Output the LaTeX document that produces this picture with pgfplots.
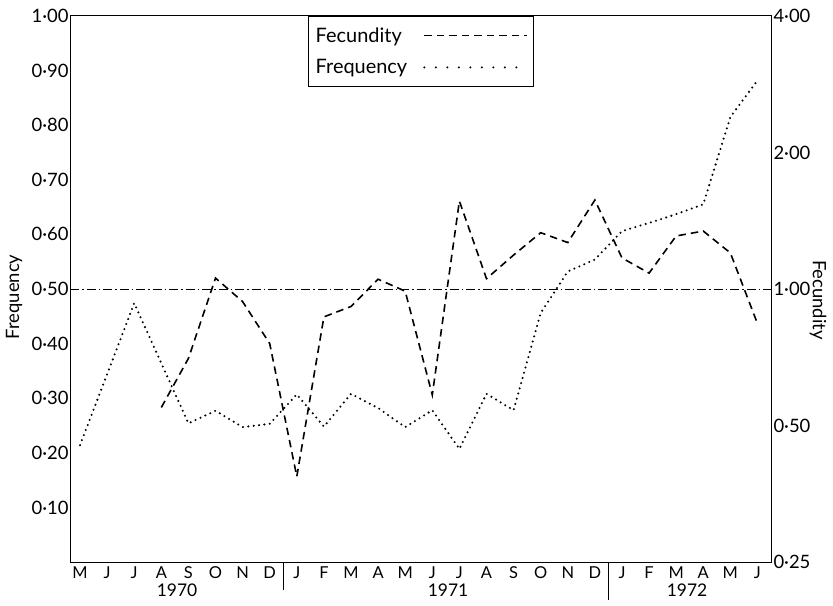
\documentclass[border=0pt]{standalone}
\usepackage{fontspec}
\setmainfont{Lato}
\usepackage{pgfplots}
\pgfplotsset{compat=1.18}
\begin{document}
\begin{tikzpicture}
\useasboundingbox (0bp,0bp) rectangle (833bp,606bp);
\begin{axis}[
  at={(70bp,44bp)}, anchor=south west, scale only axis,
  width=701bp, height=546bp,
  xmin=-0.37, xmax=25.5, ymin=0, ymax=1,
  clip=false,
  axis line style={line width=1bp},
  major tick length=0pt,
  xtick pos=bottom, ytick pos=left,
  xtick={0,...,25},
  xticklabels={M,J,J,A,S,O,N,D,J,F,M,A,M,J,J,A,S,O,N,D,J,F,M,A,M,J},
  xticklabel style={font=\fontsize{16.5}{19}\selectfont, yshift=-1bp},
  ytick={0.1,0.2,0.3,0.4,0.5,0.6,0.7,0.8,0.9,1.0},
  yticklabels={0·10,0·20,0·30,0·40,0·50,0·60,0·70,0·80,0·90,1·00},
  yticklabel style={font=\fontsize{18.5}{21}\selectfont, xshift=2bp},
]
% reference line at 0.50 / 1.00
\addplot[black, line width=0.7bp, dash pattern=on 9bp off 3bp on 1.5bp off 3bp] coordinates {(-0.37,0.5) (25.5,0.5)};
% Frequency
\addplot[black, line width=2.3bp, line cap=round, dash pattern=on 0bp off 5.4bp] coordinates {
(0,0.214) (1,0.344) (2,0.474) (3,0.364) (4,0.254) (5,0.277) (6,0.247) (7,0.253)
(8,0.307) (9,0.248) (10,0.308) (11,0.282) (12,0.247) (13,0.278) (14,0.207) (15,0.308)
(16,0.278) (17,0.456) (18,0.532) (19,0.554) (20,0.606) (21,0.621) (22,0.637) (23,0.655)
(24,0.815) (25,0.882)};
% year separators and labels
\draw[line width=0.7bp] (axis cs:7.5,0) -- ([yshift=-28bp]axis cs:7.5,0);
\draw[line width=0.7bp] (axis cs:19.5,0) -- ([yshift=-38bp]axis cs:19.5,0);
\node[font=\fontsize{17.5}{20}\selectfont] at ([yshift=-28bp]axis cs:3.58,0) {1970};
\node[font=\fontsize{17.5}{20}\selectfont] at ([yshift=-28bp]axis cs:13.58,0) {1971};
\node[font=\fontsize{17.5}{20}\selectfont] at ([yshift=-28bp]axis cs:22.4,0) {1972};
\end{axis}
\begin{axis}[
  at={(70bp,44bp)}, anchor=south west, scale only axis,
  width=701bp, height=546bp,
  xmin=-0.37, xmax=25.5,
  ymode=log, log basis y=2, ymin=0.25, ymax=4,
  axis y line*=right, axis x line=none,
  axis line style={line width=1bp},
  major tick length=0pt,
  ytick={0.25,0.5,1,2,4},
  yticklabels={0·25,0·50,1·00,2·00,4·00},
  yticklabel style={font=\fontsize{18.5}{21}\selectfont, xshift=-1bp},
  legend plot pos=right,
  legend cell align=left,
  legend image code/.code={\draw[#1] (0bp,0bp) -- (103bp,0bp);},
  legend style={at={(0.34,1)}, anchor=north west, draw=black, line width=0.8bp,
    font=\fontsize{20}{23}\selectfont, row sep=12bp, inner xsep=5bp, inner ysep=9bp,
    /tikz/every odd column/.append style={column sep=14bp}},
]
% Fecundity
\addplot[black, line width=1.6bp, dash pattern=on 7.5bp off 5bp] coordinates {
(3,0.548) (4,0.703) (5,1.057) (6,0.938) (7,0.758)
(8,0.386) (9,0.868) (10,0.915) (11,1.051) (12,0.989) (13,0.584) (14,1.563) (15,1.054)
(16,1.188) (17,1.331) (18,1.266) (19,1.571) (20,1.171) (21,1.084) (22,1.309) (23,1.342)
(24,1.201) (25,0.839)};
\addlegendentry{Fecundity}
\addlegendimage{black, line width=2.3bp, line cap=round, dash pattern=on 0bp off 11.5bp}
\addlegendentry{Frequency}
\end{axis}
\node[rotate=90, font=\fontsize{18.5}{21}\selectfont] at (14bp,309bp) {Frequency};
\node[rotate=-90, font=\fontsize{18.5}{21}\selectfont] at (818bp,306bp) {Fecundity};
\end{tikzpicture}
\end{document}
